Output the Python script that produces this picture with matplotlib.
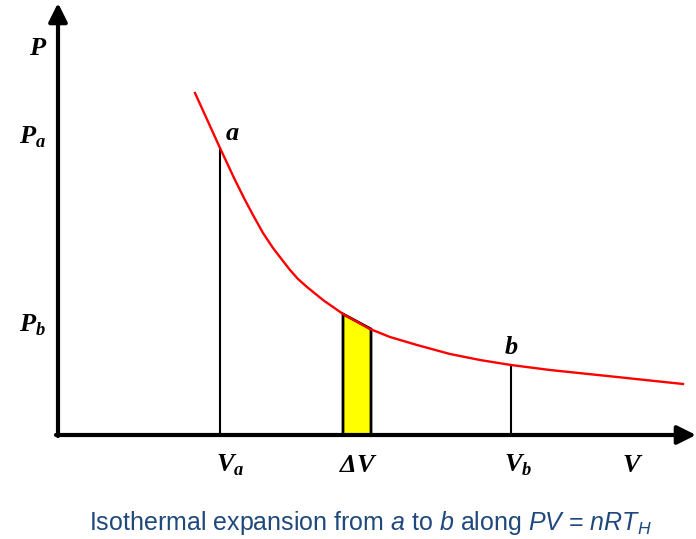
import matplotlib
matplotlib.use("Agg")
import matplotlib.pyplot as plt
from matplotlib.patches import Polygon

plt.rcParams['mathtext.fontset'] = 'custom'
plt.rcParams['mathtext.rm'] = 'Liberation Sans'
plt.rcParams['mathtext.it'] = 'Liberation Sans:italic'
plt.rcParams['mathtext.bf'] = 'Liberation Serif:bold'
plt.rcParams['mathtext.bfit'] = 'Liberation Serif:italic:bold'

# Isotherm curve (arbitrary units)
V_curve = [137, 162, 177, 187, 195, 205, 215, 225, 232, 240, 249, 265, 285,
           312, 332, 359, 392, 422, 453, 492, 559, 625]
P_curve = [342, 287, 255, 235, 220, 202, 187, 174, 165, 156, 148, 135, 121,
           106, 98, 90, 81, 75, 70, 65, 58, 51]

# state points
V_a, P_a = 162, 287
V_b, P_b = 453, 70
# strip dV
dV_left, dV_right = 285, 313
dP_left, dP_right = 121, 106

# tick labels
x_labels = [r'$\mathbfit{V}_{\mathbfit{a}}$', r'$\mathbfit{\Delta V}$', r'$\mathbfit{V}_{\mathbfit{b}}$', r'$\mathbfit{V}$']
x_label_pos = [172, 300, 460, 575]
y_labels = [r'$\mathbfit{P}_{\mathbfit{a}}$', r'$\mathbfit{P}_{\mathbfit{b}}$']
y_label_pos = [298, 110]

fig = plt.figure(figsize=(6.96, 5.39), dpi=100)
ax = fig.add_axes([0, 0, 1, 1])
ax.set_xlim(-58, 638)
ax.set_ylim(-104, 435)
ax.axis('off')

# axes with arrows
ax.annotate('', xy=(0, 432), xytext=(0, -1),
            arrowprops=dict(arrowstyle='-|>', lw=3, color='black', mutation_scale=28,
                            shrinkA=0, shrinkB=0))
ax.annotate('', xy=(638, 0), xytext=(-2, 0),
            arrowprops=dict(arrowstyle='-|>', lw=3, color='black', mutation_scale=28,
                            shrinkA=0, shrinkB=0))

# strip
strip = Polygon([(dV_left, 0), (dV_left, dP_left), (dV_right, dP_right), (dV_right, 0)],
                closed=True, facecolor='#ffff00', edgecolor='black', lw=2, zorder=2)
ax.add_patch(strip)

# vertical lines
ax.plot([V_a, V_a], [0, P_a], color='black', lw=1.5, zorder=2)
ax.plot([V_b, V_b], [0, P_b], color='black', lw=1.5, zorder=2)

# curve
ax.plot(V_curve, P_curve, color='red', lw=1.7, zorder=3, solid_joinstyle='round')

# point labels
fs = 19
ax.text(V_a + 12, P_a + 15, r'$\mathbfit{a}$', fontsize=fs, ha='center', va='center')
ax.text(V_b, P_b + 18, r'$\mathbfit{b}$', fontsize=fs, ha='center', va='center')

for lab, x in zip(x_labels, x_label_pos):
    ax.text(x, -30, lab, fontsize=fs, ha='center', va='center')
for lab, y in zip(y_labels, y_label_pos):
    ax.text(-25, y, lab, fontsize=fs, ha='center', va='center')
ax.text(-20, 387, r'$\mathbfit{P}$', fontsize=fs, ha='center', va='center')

ax.text(312, -88, r'Isothermal expansion from $a$ to $b$ along $PV$ = $nRT_H$',
        fontsize=18, color='#1F497D', ha='center', va='center', family='Liberation Sans')

fig.savefig('out.png', dpi=100)
